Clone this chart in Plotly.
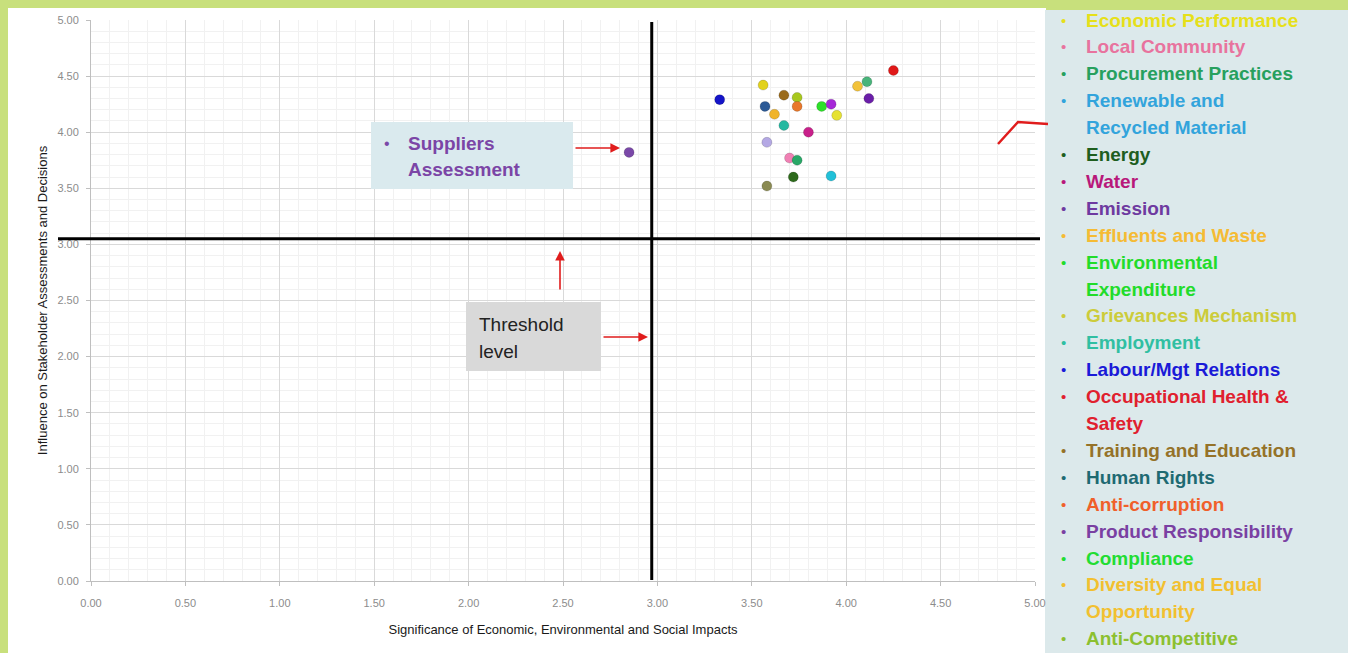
import plotly.graph_objects as go

# ---------------- data ----------------
categories = [
    "Economic Performance", "Training and Education", "Anti-Competitive Behavior",
    "Anti-corruption", "Human Rights", "Effluents and Waste", "Employment",
    "Environmental Expenditure", "Product Responsibility", "Grievances Mechanism",
    "Water", "Customer Health and Safety", "Local Community", "Procurement Practices",
    "Energy", "Renewable and Recycled Material", "Marketing and Labeling",
    "Diversity and Equal Opportunity", "Compliance", "Emission",
    "Occupational Health & Safety", "Labour/Mgt Relations", "Suppliers Assessment",
]
significance = [3.56, 3.67, 3.74, 3.74, 3.57, 3.62, 3.67, 3.87, 3.92, 3.95,
                3.80, 3.58, 3.70, 3.74, 3.72, 3.92, 3.58, 4.06, 4.11, 4.12,
                4.25, 3.33, 2.85]
influence = [4.42, 4.33, 4.31, 4.23, 4.23, 4.16, 4.06, 4.23, 4.25, 4.15,
             4.00, 3.91, 3.77, 3.75, 3.60, 3.61, 3.52, 4.41, 4.45, 4.30,
             4.55, 4.29, 3.82]
point_colors = ["#e2d21c", "#9a6a1a", "#a8c81e", "#e8782a", "#2c5a96", "#f0b42a",
                "#24b8a0", "#2ee02a", "#a628d8", "#e6e232", "#c8208a", "#b4a8e4",
                "#f080b4", "#2aa868", "#2e6a1c", "#22c0d8", "#8a8a52", "#f2c23a",
                "#48b47a", "#6a1ea8", "#e01818", "#1414c8", "#7a48a8"]

threshold_x = 2.97
threshold_y = 3.05

x_ticks = [0, 0.5, 1, 1.5, 2, 2.5, 3, 3.5, 4, 4.5, 5]
y_ticks = [0, 0.5, 1, 1.5, 2, 2.5, 3, 3.5, 4, 4.5, 5]

legend_lines = [
    ("Economic Performance", "#e6e01a", True),
    ("Local Community", "#e8739e", True),
    ("Procurement Practices", "#27a05e", True),
    ("Renewable and", "#32a4dc", True),
    ("Recycled Material", "#32a4dc", False),
    ("Energy", "#1e5e1e", True),
    ("Water", "#b8187a", True),
    ("Emission", "#6e3aa0", True),
    ("Effluents and Waste", "#f5bb34", True),
    ("Environmental", "#22dc2a", True),
    ("Expenditure", "#22dc2a", False),
    ("Grievances Mechanism", "#cccc3a", True),
    ("Employment", "#30bfa2", True),
    ("Labour/Mgt Relations", "#1a1ad8", True),
    ("Occupational Health &", "#e0202e", True),
    ("Safety", "#e0202e", False),
    ("Training and Education", "#957228", True),
    ("Human Rights", "#1e6a72", True),
    ("Anti-corruption", "#f0602a", True),
    ("Product Responsibility", "#7a40a2", True),
    ("Compliance", "#22dd33", True),
    ("Diversity and Equal", "#f2c030", True),
    ("Opportunity", "#f2c030", False),
    ("Anti-Competitive", "#8cc030", True),
]

# ---------------- layout helpers ----------------
W, H = 1348, 653
L, R, T, B = 91, 313, 20, 72
PW, PH = W - L - R, H - T - B


def PX(px):
    return (px - L) / PW


def PY(py):
    return (H - B - py) / PH


fig = go.Figure()
fig.add_trace(go.Scatter(
    x=significance, y=influence, mode="markers", text=categories,
    marker=dict(size=10, color=point_colors,
                line=dict(width=0.6, color="rgba(0,0,0,0.25)")),
    hovertemplate="%{text}<br>%{x:.2f}, %{y:.2f}<extra></extra>",
    showlegend=False,
))

shapes = []
# white chart area and legend panel
shapes.append(dict(type="rect", xref="paper", yref="paper", layer="below",
                   x0=PX(8), x1=PX(1046), y0=PY(8), y1=PY(H + 2),
                   fillcolor="white", line=dict(width=0)))
shapes.append(dict(type="rect", xref="paper", yref="paper", layer="below",
                   x0=PX(1045), x1=PX(W + 2), y0=PY(10), y1=PY(H + 2),
                   fillcolor="#dce9eb", line=dict(width=0)))
# threshold lines
shapes.append(dict(type="line", xref="paper", yref="y", layer="above",
                   x0=PX(58), x1=PX(1040), y0=threshold_y, y1=threshold_y,
                   line=dict(color="black", width=3)))
shapes.append(dict(type="line", xref="x", yref="paper", layer="above",
                   x0=threshold_x, x1=threshold_x, y0=PY(580), y1=PY(22),
                   line=dict(color="black", width=3)))
# text boxes
shapes.append(dict(type="rect", xref="paper", yref="paper", layer="above",
                   x0=PX(371), x1=PX(573), y0=PY(189), y1=PY(122),
                   fillcolor="#daeaee", line=dict(width=0)))
shapes.append(dict(type="rect", xref="paper", yref="paper", layer="above",
                   x0=PX(466), x1=PX(601), y0=PY(371), y1=PY(302),
                   fillcolor="#d9d9d9", line=dict(width=0)))
# red polyline at right
shapes.append(dict(type="path", xref="paper", yref="paper", layer="above",
                   path=f"M {PX(998)},{PY(144)} L {PX(1018)},{PY(122)} L {PX(1048)},{PY(124)}",
                   line=dict(color="#e01c1c", width=2.5)))

annotations = []
# Suppliers box text
annotations.append(dict(xref="paper", yref="paper", x=PX(382), y=PY(143), text="•",
                        showarrow=False, xanchor="left", yanchor="middle",
                        font=dict(family="Liberation Sans", size=16, color="#7a48a8")))
annotations.append(dict(xref="paper", yref="paper", x=PX(406), y=PY(143), text="<b>Suppliers</b>",
                        showarrow=False, xanchor="left", yanchor="middle",
                        font=dict(family="Liberation Sans", size=19, color="#7b45a6")))
annotations.append(dict(xref="paper", yref="paper", x=PX(406), y=PY(170), text="<b>Assessment</b>",
                        showarrow=False, xanchor="left", yanchor="middle",
                        font=dict(family="Liberation Sans", size=19, color="#7b45a6")))
# Threshold box text
annotations.append(dict(xref="paper", yref="paper", x=PX(477), y=PY(324), text="Threshold",
                        showarrow=False, xanchor="left", yanchor="middle",
                        font=dict(family="Liberation Sans", size=19, color="#222222")))
annotations.append(dict(xref="paper", yref="paper", x=PX(477), y=PY(351), text="level",
                        showarrow=False, xanchor="left", yanchor="middle",
                        font=dict(family="Liberation Sans", size=19, color="#222222")))
# red arrows
for hx, hy, ax, ay in [(620, 148, -46, 0), (648, 337, -46, 0), (560, 251, 0, 40)]:
    annotations.append(dict(xref="paper", yref="paper", x=PX(hx), y=PY(hy), text="",
                            showarrow=True, ax=ax, ay=ay, arrowhead=2, arrowsize=1.2,
                            arrowwidth=1.6, arrowcolor="#e01c1c"))
# legend panel
y0_leg, dy_leg = 20, 26.9
for i, (txt, col, bullet) in enumerate(legend_lines):
    yy = y0_leg + i * dy_leg
    if bullet:
        annotations.append(dict(xref="paper", yref="paper", x=PX(1059), y=PY(yy), text="•",
                                showarrow=False, xanchor="left", yanchor="middle",
                                font=dict(family="Liberation Sans", size=15, color=col)))
    annotations.append(dict(xref="paper", yref="paper", x=PX(1084), y=PY(yy),
                            text=f"<b>{txt}</b>", showarrow=False,
                            xanchor="left", yanchor="middle",
                            font=dict(family="Liberation Sans", size=19, color=col)))

axis_common = dict(
    range=[0, 5], tickformat=".2f", showgrid=True, gridcolor="#d9d9d9", gridwidth=1,
    minor=dict(dtick=0.1, showgrid=True, gridcolor="#f1f1f1", gridwidth=1),
    zeroline=False, showline=True, linecolor="#bfbfbf", linewidth=1,
    ticks="outside", ticklen=4, tickcolor="#bfbfbf",
    tickfont=dict(family="Liberation Sans", size=11, color="#8c8c8c"),
    fixedrange=True,
)

fig.update_layout(
    width=W, height=H,
    margin=dict(l=L, r=R, t=T, b=B, pad=0),
    paper_bgcolor="#c8e07c",
    plot_bgcolor="rgba(0,0,0,0)",
    xaxis=dict(**axis_common, tickvals=x_ticks, ticklabelstandoff=8,
               title=dict(text="Significance of Economic, Environmental and Social Impacts",
                          font=dict(family="Liberation Sans", size=13, color="#1a1a1a"),
                          standoff=16)),
    yaxis=dict(**axis_common, tickvals=y_ticks, ticklabelstandoff=5,
               title=dict(text="Influence on Stakeholder Assessments and Decisions",
                          font=dict(family="Liberation Sans", size=13, color="#1a1a1a"),
                          standoff=6)),
    shapes=shapes,
    annotations=annotations,
    showlegend=False,
)

fig.write_html(
    "out.html",
    config={"displayModeBar": False},
    post_script="document.body.style.margin='0';document.body.style.padding='0';"
                "document.body.style.overflow='hidden';",
)
